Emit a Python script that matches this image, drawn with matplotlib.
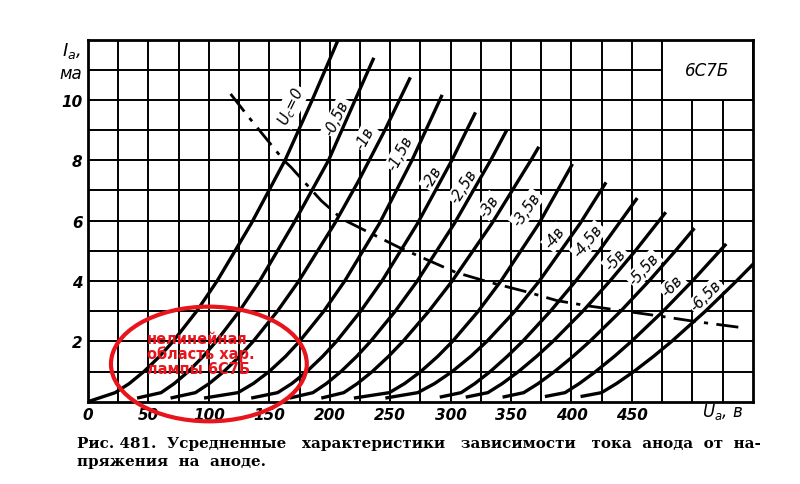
import matplotlib
matplotlib.use("Agg")
import matplotlib.pyplot as plt
from matplotlib.patches import Ellipse, Rectangle

# grid voltage of each curve, its label and the points (Ua in V, Ia in mA)
grid_labels = ["$U_c$=0", "-0,5в", "-1в", "-1,5в", "-2в", "-2,5в", "-3в", "-3,5в",
               "-4в", "-4,5в", "-5в", "-5,5в", "-6в", "-6,5в"]
curve_ua = [
    [0, 22.5, 34.1, 46.3, 59.2, 70.4, 89.9, 106.8, 135, 163, 185.5, 207, 212],
    [40.6, 60.5, 71.3, 83.0, 95.3, 106.1, 125.2, 142.0, 170, 199, 221, 236.5],
    [68.3, 88.9, 100.2, 112.4, 125.3, 136.7, 156.7, 174.4, 204, 224, 245.6, 266.7],
    [96, 124.1, 136.7, 149.9, 163.4, 175, 195.1, 212.4, 241, 268, 293],
    [135, 156.9, 168.6, 181, 194.1, 205.6, 225.6, 243.2, 272.5, 301, 320.6],
    [166.7, 186.1, 197.2, 209.3, 222.3, 233.8, 254.2, 272.4, 303, 333.1, 346.7],
    [193, 211.6, 222.8, 235.2, 248.6, 260.6, 282, 301.3, 334, 366.4, 373],
    [220, 249.3, 261.9, 275.3, 289.3, 301.6, 322.9, 341.6, 373, 400.8],
    [246, 272.8, 286.7, 301.3, 316.6, 330, 353.2, 373.4, 407, 428.6],
    [291, 308.7, 320, 332.8, 346.8, 359.6, 382.6, 403.5, 422.9, 454.4],
    [312.5, 330.8, 342.7, 356.2, 371.1, 384.7, 409.4, 431.8, 452.8, 478],
    [343, 360.5, 372.4, 386, 401.2, 415.2, 440.7, 464.1, 486, 501.7],
    [378, 394.7, 406.4, 420, 435.4, 449.6, 475.8, 500, 528],
    [407.5, 424.8, 437.2, 451.6, 467.8, 482.9, 510.8, 536.5, 553],
]
curve_ia = [
    [0, 0.3, 0.6, 1, 1.5, 2, 3, 4, 5.9, 8, 10, 12, 12.5],
    [0.12, 0.3, 0.6, 1, 1.5, 2, 3, 4, 5.9, 8, 10, 11.4],
    [0.12, 0.3, 0.6, 1, 1.5, 2, 3, 4, 5.9, 7.33, 9, 10.75],
    [0.12, 0.3, 0.6, 1, 1.5, 2, 3, 4, 5.9, 8, 10.17],
    [0.12, 0.3, 0.6, 1, 1.5, 2, 3, 4, 5.9, 8, 9.59],
    [0.12, 0.3, 0.6, 1, 1.5, 2, 3, 4, 5.9, 8, 9.02],
    [0.12, 0.3, 0.6, 1, 1.5, 2, 3, 4, 5.9, 8, 8.45],
    [0.12, 0.3, 0.6, 1, 1.5, 2, 3, 4, 5.9, 7.88],
    [0.12, 0.3, 0.6, 1, 1.5, 2, 3, 4, 5.9, 7.27],
    [0.15, 0.3, 0.6, 1, 1.5, 2, 3, 4, 5, 6.75],
    [0.15, 0.3, 0.6, 1, 1.5, 2, 3, 4, 5, 6.28],
    [0.15, 0.3, 0.6, 1, 1.5, 2, 3, 4, 5, 5.75],
    [0.17, 0.3, 0.6, 1, 1.5, 2, 3, 4, 5.23],
    [0.17, 0.3, 0.6, 1, 1.5, 2, 3, 4, 4.67],
]
# where each label sits (Ua, Ia) and its slant
label_ua = [168, 206, 229, 258.6, 285, 311, 332, 362.8, 386.4, 414, 436.4, 460, 483.6, 511.4]
label_ia = [9.8, 9.43, 8.76, 8.27, 7.44, 7.16, 6.5, 6.39, 5.45, 5.34, 4.73, 4.4, 3.85, 3.51]
label_rot = [64, 64, 62, 62, 60, 58, 56, 55, 53, 51, 49, 48, 46, 45]

# dash-dot curve (allowed dissipation)
pa_ua = [118, 132, 162, 168, 193, 210, 257, 304, 332, 364, 388, 413, 441, 471, 502, 538]
pa_ia = [10.2, 9.48, 8.0, 7.77, 6.66, 6.06, 5.12, 4.29, 3.96, 3.63, 3.35, 3.18, 3.02, 2.85, 2.66, 2.47]

x_ticks = [0, 50, 100, 150, 200, 250, 300, 350, 400, 450]
y_ticks = [2, 4, 6, 8, 10]

fig = plt.figure(figsize=(8, 4.85), dpi=100)
ax = fig.add_axes([0.11, 0.1697, 0.831, 0.7465])
ax.set_xlim(0, 550)
ax.set_ylim(0, 12)

# millimetre-paper style grid
for v in range(25, 550, 25):
    ax.axvline(v, color="black", lw=1.4, zorder=1)
for i in range(1, 12):
    ax.axhline(i, color="black", lw=1.4, zorder=1)
for s in ax.spines.values():
    s.set_linewidth(2)

# tube name box
ax.add_patch(Rectangle((475, 10), 75, 2, facecolor="white", edgecolor="black", lw=1.4, zorder=2))
ax.text(512.5, 11.0, "6С7Б", ha="center", va="center", fontsize=12, style="italic", zorder=3)

for ua, ia in zip(curve_ua, curve_ia):
    ax.plot(ua, ia, color="black", lw=2.4, solid_capstyle="butt", solid_joinstyle="round", zorder=4)

ax.plot(pa_ua, pa_ia, color="black", lw=2.0, linestyle=(0, (8, 3, 1.5, 3)), zorder=4)

for txt, x, y, r in zip(grid_labels, label_ua, label_ia, label_rot):
    ax.text(x, y, txt, ha="center", va="center", rotation=r, fontsize=10.5, style="italic",
            zorder=3, bbox=dict(facecolor="white", edgecolor="none", pad=1.0))

ax.set_xticks(x_ticks)
ax.set_xticklabels([str(t) for t in x_ticks], fontsize=11, style="italic", fontweight="bold")
ax.set_yticks(y_ticks)
ax.set_yticklabels([str(t) for t in y_ticks], fontsize=11, style="italic", fontweight="bold")
ax.tick_params(length=0, pad=4)
ax.text(525, -0.32, "$U_a$, в", ha="center", va="center", fontsize=12, style="italic")
ax.text(-14, 11.65, "$I_a$,", ha="center", va="center", fontsize=13, style="italic")
ax.text(-14, 10.9, "ма", ha="center", va="center", fontsize=12, style="italic")

# red annotation
ax.add_patch(Ellipse((100, 1.25), 162, 3.8, fill=False, edgecolor="#e8161c", lw=3.0,
                     zorder=6, clip_on=False))
ax.text(49, 1.6, "нелинейная\nобласть хар.\nлампы 6С7Б", ha="left", va="center",
        color="#e8161c", fontsize=10.5, fontweight="bold", linespacing=0.95, zorder=6)

fig.text(0.096, 0.085, "Рис. 481.  Усредненные   характеристики   зависимости   тока  анода  от  на-",
         fontsize=10.9, fontweight="bold", family="DejaVu Serif", va="center")
fig.text(0.096, 0.047, "пряжения  на  аноде.", fontsize=10.9, fontweight="bold",
         family="DejaVu Serif", va="center")

fig.savefig("out.png", dpi=100)
